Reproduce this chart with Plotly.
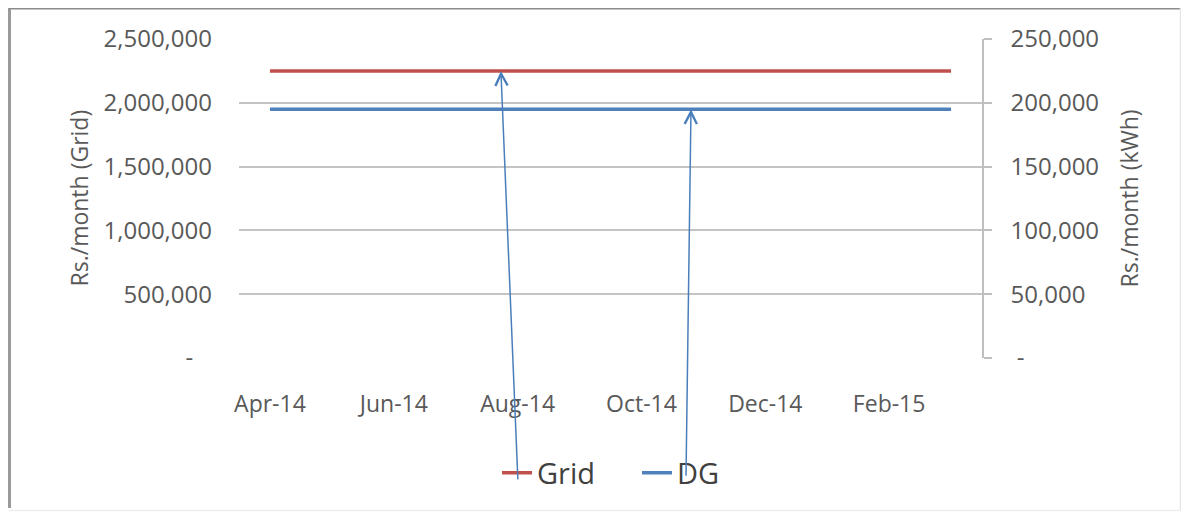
import plotly.graph_objects as go

# ---- data ----
months = ["Apr-14", "May-14", "Jun-14", "Jul-14", "Aug-14", "Sep-14",
          "Oct-14", "Nov-14", "Dec-14", "Jan-15", "Feb-15", "Mar-15"]
grid_rs = [2250000, 2250000, 2250000, 2250000, 2250000, 2250000,
           2250000, 2250000, 2250000, 2250000, 2250000, 2250000]
dg_kwh = [195000, 195000, 195000, 195000, 195000, 195000,
          195000, 195000, 195000, 195000, 195000, 195000]
left_ticks = [0, 500000, 1000000, 1500000, 2000000, 2500000]
left_labels = ["-\u00a0\u00a0\u00a0", "500,000", "1,000,000", "1,500,000", "2,000,000", "2,500,000"]
right_ticks = [0, 50000, 100000, 150000, 200000, 250000]
right_labels = ["\u00a0-", "50,000", "100,000", "150,000", "200,000", "250,000"]
x_tick_labels = months[::2]

# ---- layout constants (page body adds an 8px margin) ----
OFF = 8
W, H = 1189 - OFF, 514 - OFF
ML, MT = 239 - OFF, 39 - OFF
MR = W - (982 - OFF)
MB = H - (358 - OFF)
PW, PH = W - ML - MR, H - MT - MB
FONT = "Open Sans, Lato, sans-serif"
TICK_COLOR = "#595959"
RED = "#c0504d"
BLUE = "#4f81bd"


def px_x(px):
    return (px - OFF - ML) / PW


def px_y(py):
    return (H - MB - (py - OFF)) / PH


fig = go.Figure()
fig.add_trace(go.Scatter(x=months, y=grid_rs, name="Grid", mode="lines",
                         line=dict(color=RED, width=3.5), yaxis="y"))
fig.add_trace(go.Scatter(x=months, y=dg_kwh, name="DG", mode="lines",
                         line=dict(color=BLUE, width=3.5), yaxis="y2"))

# arrows from legend entries up to the lines
fig.add_annotation(x=3.73, y=grid_rs[0], xref="x", yref="y", ax=17, ay=410,
                   showarrow=True, arrowhead=5, arrowsize=1.6, arrowwidth=1.5,
                   arrowcolor="#4a7ebb", text="")
fig.add_annotation(x=6.8, y=dg_kwh[0], xref="x", yref="y2", ax=-5, ay=368,
                   showarrow=True, arrowhead=5, arrowsize=1.6, arrowwidth=1.5,
                   arrowcolor="#4a7ebb", text="")

# axis titles
fig.add_annotation(x=px_x(60), y=0.5, xref="paper", yref="paper", text="Rs./month (Grid)",
                   textangle=-90, showarrow=False, font=dict(size=23, color=TICK_COLOR, family=FONT))
fig.add_annotation(x=px_x(1146), y=0.5, xref="paper", yref="paper", text="Rs./month (kWh)",
                   textangle=-90, showarrow=False, font=dict(size=23, color=TICK_COLOR, family=FONT))

# outer frame
frame = [
    (9.5, 8, 9.5, 508, "#9a9a9a", 3),
    (9, 8.5, 1181, 8.5, "#8c8c8c", 2),
    (1180.5, 8, 1180.5, 510, "#e6e6e6", 1.5),
    (9, 510.5, 1181, 510.5, "#eeeeee", 1.5),
]
for x0, y0, x1, y1, c, w in frame:
    fig.add_shape(type="line", xref="paper", yref="paper",
                  x0=px_x(x0), y0=px_y(y0), x1=px_x(x1), y1=px_y(y1),
                  line=dict(color=c, width=w))

fig.update_layout(
    width=W, height=H,
    margin=dict(l=ML, r=MR, t=MT, b=MB, pad=0),
    paper_bgcolor="white", plot_bgcolor="white",
    font=dict(family=FONT, color=TICK_COLOR),
    showlegend=True,
    legend=dict(orientation="h", x=px_x(637), xanchor="center", y=-0.36, yanchor="middle",
                font=dict(size=29, color="#404040", family=FONT),
                bgcolor="rgba(0,0,0,0)", entrywidth=95, entrywidthmode="pixels",
                tracegroupgap=0),
    xaxis=dict(type="category", categoryorder="array", categoryarray=months,
               tickmode="array", tickvals=x_tick_labels, ticktext=x_tick_labels,
               showgrid=False, showline=False, zeroline=False, ticks="",
               ticklabelstandoff=30, tickfont=dict(size=23, color=TICK_COLOR),
               range=[-0.5, len(months) - 0.5], fixedrange=True),
    yaxis=dict(range=[0, 2500000], tickmode="array", tickvals=left_ticks, ticktext=left_labels,
               showgrid=True, gridcolor="#c4c4c4", gridwidth=1.5, zeroline=False,
               showline=False, ticks="", ticklabelstandoff=26,
               tickfont=dict(size=24, color=TICK_COLOR)),
    yaxis2=dict(range=[0, 250000], overlaying="y", side="right",
                tickmode="array", tickvals=right_ticks, ticktext=right_labels,
                showgrid=False, zeroline=False, showline=True, linecolor="#bfbfbf", linewidth=1.5,
                ticks="outside", ticklen=8, tickcolor="#bfbfbf", tickwidth=1.5,
                ticklabelstandoff=14, tickfont=dict(size=24, color=TICK_COLOR)),
)

fig.write_html("out.html")
